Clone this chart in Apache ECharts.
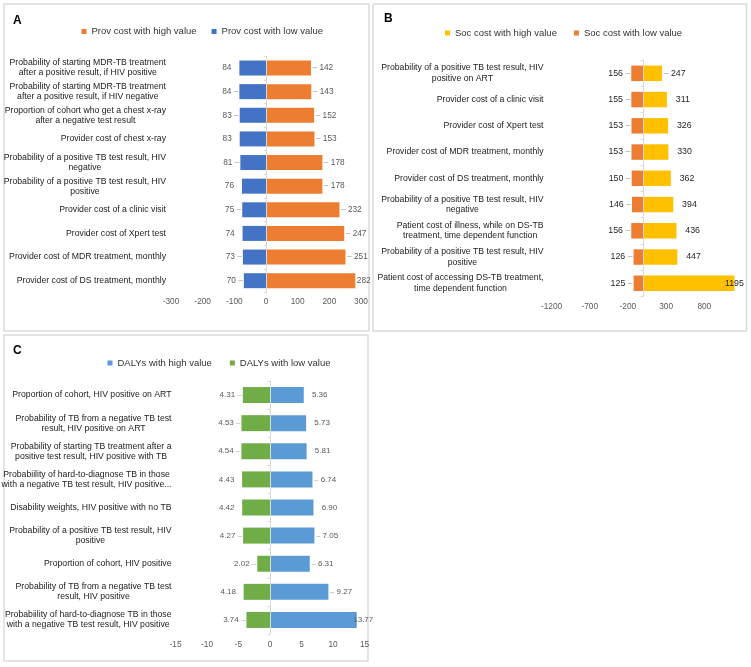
<!DOCTYPE html>
<html lang="en">
<head>
<meta charset="UTF-8" />
<title>Tornado diagrams</title>
<style>
  body { margin: 0; overflow: hidden; background: #fff; }
  #chart { width: 751px; height: 667px; }
</style>
<script src="https://cdn.jsdelivr.net/npm/echarts@6/dist/echarts.min.js"></script>
</head>
<body>
<div id="chart"></div>
<script>
// ---- panel A: provider cost ----
var catsA = [
  "Probability of starting MDR-TB treatment\nafter a positive result, if HIV positive",
  "Probability of starting MDR-TB treatment\nafter a positive result, if HIV negative",
  "Proportion of cohort who get a chest x-ray\nafter a negative test result",
  "Provider cost of chest x-ray",
  "Probability of a positive TB test result, HIV\nnegative",
  "Probability of a positive TB test result, HIV\npositive",
  "Provider cost of a clinic visit",
  "Provider cost of Xpert test",
  "Provider cost of MDR treatment, monthly",
  "Provider cost of DS treatment, monthly"
];
var lowA = [84, 84, 83, 83, 81, 76, 75, 74, 73, 70];
var highA = [142, 143, 152, 153, 178, 178, 232, 247, 251, 282];

// ---- panel B: societal cost ----
var catsB = [
  "Probability of a positive TB test result, HIV\npositive on ART",
  "Provider cost of a clinic visit",
  "Provider cost of Xpert test",
  "Provider cost of MDR treatment, monthly",
  "Provider cost of DS treatment, monthly",
  "Probability of a positive TB test result, HIV\nnegative",
  "Patient cost of illness, while on DS-TB\ntreatment, time dependent function",
  "Probability of a positive TB test result, HIV\npositive",
  "Patient cost of accessing DS-TB treatment,\ntime dependent function"
];
var lowB = [156, 155, 153, 153, 150, 146, 156, 126, 125];
var highB = [247, 311, 326, 330, 362, 394, 436, 447, 1195];

// ---- panel C: DALYs ----
var catsC = [
  "Proportion of cohort, HIV positive on ART",
  "Probability of TB from a negative TB test\nresult, HIV positive on ART",
  "Probability of starting TB treatment after a\npositive test result, HIV positive with TB",
  "Probabiility of hard-to-diagnose TB in those\nwith a negative TB test result, HIV positive...",
  "Disability weights, HIV positive with no TB",
  "Probability of a positive TB test result, HIV\npositive",
  "Proportion of cohort, HIV positive",
  "Probability of TB from a negative TB test\nresult, HIV positive",
  "Probabiility of hard-to-diagnose TB in those\nwith a negative TB test result, HIV positive"
];
var lowC = [4.31, 4.53, 4.54, 4.43, 4.42, 4.27, 2.02, 4.18, 3.74];
var highC = [5.36, 5.73, 5.81, 6.74, 6.90, 7.05, 6.31, 9.27, 13.77];

var FONT = "Liberation Sans, Arial, sans-serif";

var panels = [
  {
    tag: "A", cats: catsA, low: lowA, high: highA,
    names: ["Prov cost with high value", "Prov cost with low value"],
    colors: ["#ED7D31", "#4472C4"],
    box: [4, 4, 365, 327], tagXY: [13, 14.5],
    grid: { left: 171, top: 56.2, width: 190, height: 236.3 },
    x: { min: -300, max: 300, interval: 100, margin: 5 },
    catMargin: 5, lineHeight: 10, barWidth: 15,
    legend: { left: 81.5, top: 26.5, itemGap: 15 },
    digits: 0, valColor: "#595959", valSize: 8.3,
    lowDash: [1, 2, 4, 6, 8, 9], highDash: [0, 1, 2, 3, 4, 5, 6, 7, 8],
    maxShift: 0
  },
  {
    tag: "B", cats: catsB, low: lowB, high: highB,
    names: ["Soc cost with high value", "Soc cost with low value"],
    colors: ["#FFC000", "#ED7D31"],
    box: [373, 4, 373.5, 327], tagXY: [384, 13],
    grid: { left: 551.5, top: 60.2, width: 191, height: 236.2 },
    x: { min: -1200, max: 1300, interval: 500, margin: 6, hideMax: true },
    catMargin: 8, lineHeight: 10.5, barWidth: 15.5,
    legend: { left: 445, top: 28, itemGap: 17 },
    digits: 0, valColor: "#262626", valSize: 8.8,
    lowDash: [0, 1, 2, 3, 4, 5, 6, 7, 8], highDash: [0],
    maxShift: -11
  },
  {
    tag: "C", cats: catsC, low: lowC, high: highC,
    names: ["DALYs with high value", "DALYs with low value"],
    colors: ["#5B9BD5", "#70AD47"],
    box: [4, 335, 364, 326], tagXY: [13, 344.5],
    grid: { left: 175.5, top: 381, width: 189, height: 253 },
    x: { min: -15, max: 15, interval: 5, margin: 7 },
    catMargin: 4, lineHeight: 10, barWidth: 16,
    legend: { left: 107.5, top: 358, itemGap: 18 },
    digits: 2, valColor: "#595959", valSize: 8,
    lowDash: [0, 1, 2, 5, 6, 8], highDash: [3, 5, 6, 7],
    maxShift: -5
  }
];

function centreLines(v) {
  return v.split("\n").map(function (l) { return "{c|" + l + "}"; }).join("\n");
}

var grids = [], xAxes = [], yAxes = [], series = [], legends = [], graphics = [];

panels.forEach(function (p, k) {
  var maxIdx = p.high.indexOf(Math.max.apply(null, p.high));
  var rich = {
    v: { color: p.valColor, fontSize: p.valSize, fontFamily: FONT },
    d: { color: "#a6a6a6", fontSize: p.valSize, fontFamily: FONT },
    n: { color: "rgba(0,0,0,0)", fontSize: p.valSize, fontFamily: FONT }
  };

  graphics.push({
    type: "rect", silent: true,
    shape: { x: p.box[0], y: p.box[1], width: p.box[2], height: p.box[3] },
    style: { fill: "none", stroke: "#dcdcdc", lineWidth: 1.5 }
  });
  graphics.push({
    type: "text", x: p.tagXY[0], y: p.tagXY[1],
    style: { text: p.tag, font: "bold 12px " + FONT, fill: "#000" }
  });

  grids.push({
    left: p.grid.left, top: p.grid.top, width: p.grid.width, height: p.grid.height,
    outerBoundsMode: "none"
  });

  xAxes.push({
    type: "value", gridIndex: k,
    min: p.x.min, max: p.x.max, interval: p.x.interval,
    axisLine: { show: false }, axisTick: { show: false }, splitLine: { show: false },
    axisLabel: {
      color: "#595959", fontSize: 8.3, fontFamily: FONT, margin: p.x.margin,
      showMaxLabel: p.x.hideMax ? false : null,
      formatter: function (v) { return String(v); }
    }
  });

  // labels on the left
  yAxes.push({
    type: "category", gridIndex: k, data: p.cats, inverse: true,
    axisLine: { show: false, onZero: false }, axisTick: { show: false },
    axisLabel: {
      interval: 0, margin: p.catMargin, formatter: centreLines,
      rich: { c: { align: "center", fontSize: 8.7, lineHeight: p.lineHeight, fontFamily: FONT, color: "#222" } }
    }
  });
  // the line at zero
  yAxes.push({
    type: "category", gridIndex: k, data: p.cats, inverse: true, position: "left", z: 3,
    axisLine: { show: true, onZero: true, lineStyle: { color: "#d9d9d9", width: 1 } },
    axisTick: { show: true, length: 2.5, lineStyle: { color: "#d9d9d9" } },
    axisLabel: { show: false }
  });

  var highData = p.high.map(function (v, i) {
    if (i === maxIdx) return { value: v, label: { offset: [p.maxShift, 0] } };
    return v;
  });

  series.push({
    name: p.names[0], type: "bar", xAxisIndex: k, yAxisIndex: 2 * k,
    data: highData, barWidth: p.barWidth, barGap: "-100%",
    itemStyle: { color: p.colors[0] },
    label: {
      show: true, position: "right", distance: 1.5, fontSize: p.valSize, fontFamily: FONT, rich: rich,
      formatter: function (params) {
        var t = Math.abs(params.value).toFixed(p.digits);
        if (params.dataIndex === maxIdx) return "{v|" + t + "}";
        var dash = p.highDash.indexOf(params.dataIndex) >= 0 ? "{d|–}" : "{n|–}";
        return dash + " {v|" + t + "}";
      }
    },
    emphasis: { disabled: true }
  });

  series.push({
    name: p.names[1], type: "bar", xAxisIndex: k, yAxisIndex: 2 * k,
    data: p.low.map(function (v) { return -v; }), barWidth: p.barWidth, barGap: "-100%",
    itemStyle: { color: p.colors[1] },
    label: {
      show: true, position: "left", distance: 1, fontSize: p.valSize, fontFamily: FONT, rich: rich,
      formatter: function (params) {
        var t = Math.abs(params.value).toFixed(p.digits);
        var dash = p.lowDash.indexOf(params.dataIndex) >= 0 ? "{d|–}" : "{n|–}";
        return "{v|" + t + "} " + dash;
      }
    },
    emphasis: { disabled: true }
  });

  legends.push({
    data: [p.names[0], p.names[1]],
    left: p.legend.left, top: p.legend.top, itemGap: p.legend.itemGap,
    padding: 0, icon: "rect", itemWidth: 5, itemHeight: 5, selectedMode: false,
    textStyle: { fontSize: 9.5, color: "#333", fontFamily: FONT }
  });
});

var myChart = echarts.init(document.getElementById("chart"), null, { renderer: "canvas" });
myChart.setOption({
  backgroundColor: "#fff",
  animation: false,
  textStyle: { fontFamily: FONT },
  graphic: graphics,
  legend: legends,
  grid: grids,
  xAxis: xAxes,
  yAxis: yAxes,
  series: series
});
</script>
</body>
</html>
